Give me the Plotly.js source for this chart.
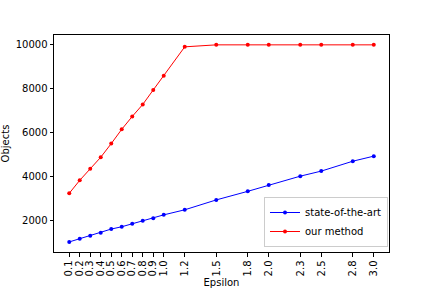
<!DOCTYPE html>
<html>
<head>
<script src="https://cdn.plot.ly/plotly-3.0.1.min.js"></script>
<style>html,body{margin:0;padding:0;background:#fff}#chart{width:432px;height:288px}</style>
</head>
<body>
<div id="chart"></div>
<script>
var epsilon = [0.1,0.2,0.3,0.4,0.5,0.6,0.7,0.8,0.9,1.0,1.2,1.5,1.8,2.0,2.3,2.5,2.8,3.0];
var tickLabels = ["0.1","0.2","0.3","0.4","0.5","0.6","0.7","0.8","0.9","1.0","1.2","1.5","1.8","2.0","2.3","2.5","2.8","3.0"];
var yTickVals = [2000,4000,6000,8000,10000];
var yTickLabels = ["2000","4000","6000","8000","10000"];
var stateOfTheArt = [1040,1190,1320,1460,1625,1730,1865,2000,2120,2270,2500,2950,3340,3630,4030,4260,4710,4940];
var ourMethod = [3250,3840,4365,4890,5510,6160,6745,7290,7950,8600,9910,10000,10000,10000,10000,10000,10000,10000];

var traces = [
  {x: epsilon, y: stateOfTheArt, name: 'state-of-the-art', type: 'scatter', mode: 'lines+markers',
   line: {color: '#0000ff', width: 1}, marker: {color: '#0000ff', size: 4}},
  {x: epsilon, y: ourMethod, name: 'our method', type: 'scatter', mode: 'lines+markers',
   line: {color: '#ff0000', width: 1}, marker: {color: '#ff0000', size: 4}}
];
var axisCommon = {showgrid: false, zeroline: false, showline: true, mirror: true, linecolor: '#000', linewidth: 1,
  ticks: 'outside', ticklen: 3.5, tickcolor: '#000', tickfont: {family: 'DejaVu Sans', size: 10, color: '#000'}};
var layout = {
  width: 432, height: 288,
  margin: {l: 54, r: 43, t: 35, b: 36},
  paper_bgcolor: '#fff', plot_bgcolor: '#fff',
  font: {family: 'DejaVu Sans', size: 10, color: '#000'},
  showlegend: true,
  legend: {x: 0.997, xanchor: 'right', y: 0.023, yanchor: 'bottom', bordercolor: '#cccccc', borderwidth: 1,
    bgcolor: 'rgba(255,255,255,0.8)', font: {family: 'DejaVu Sans', size: 10}, tracegroupgap: 0},
  xaxis: Object.assign({}, axisCommon, {range: [-0.045, 3.145], tickmode: 'array', tickvals: epsilon, ticktext: tickLabels,
    tickangle: -90, title: {text: 'Epsilon', font: {family: 'DejaVu Sans', size: 10}, standoff: 4}}),
  yaxis: Object.assign({}, axisCommon, {range: [582, 10448], tickmode: 'array', tickvals: yTickVals, ticktext: yTickLabels,
    title: {text: 'Objects', font: {family: 'DejaVu Sans', size: 10}, standoff: 6}})
};
Plotly.newPlot('chart', traces, layout, {displayModeBar: false, staticPlot: true});
</script>
</body>
</html>
